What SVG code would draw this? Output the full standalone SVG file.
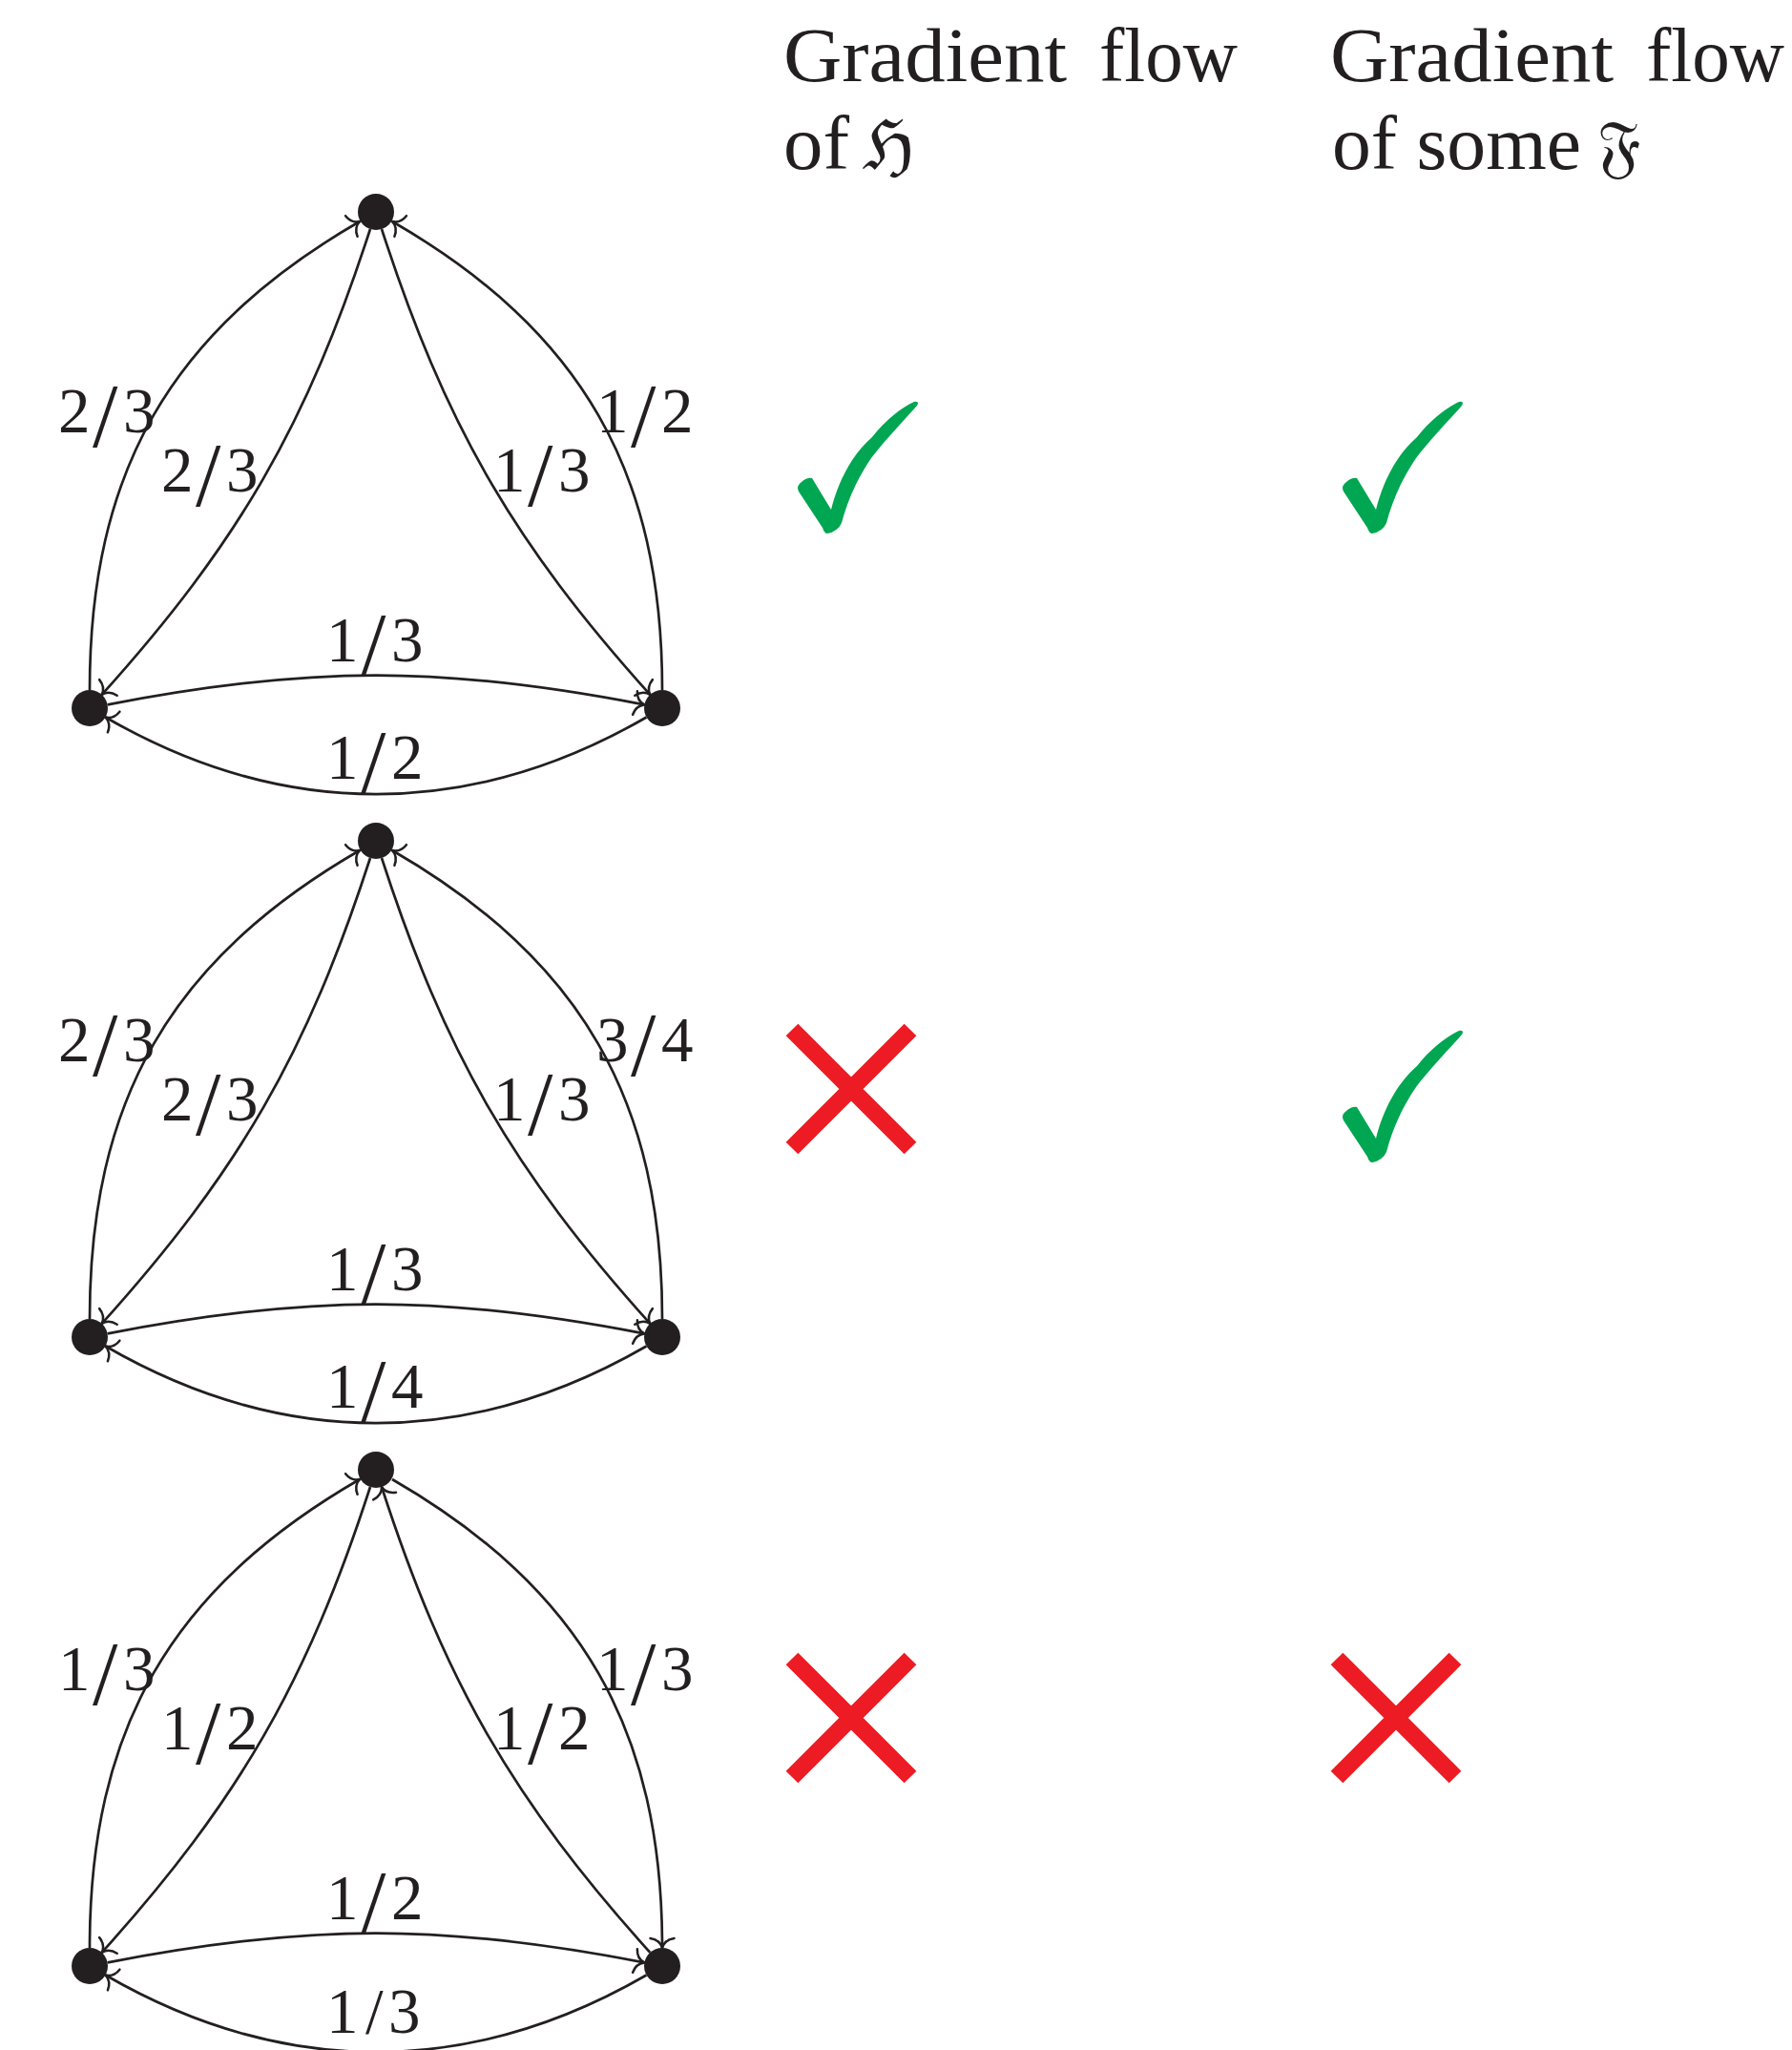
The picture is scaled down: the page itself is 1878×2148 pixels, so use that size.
<svg xmlns="http://www.w3.org/2000/svg" xmlns:xlink="http://www.w3.org/1999/xlink" width="1878" height="2148" viewBox="0 0 1878 2148">
<style>
.edge{fill:none;stroke:#231f20;stroke-width:2.7;marker-end:url(#to)}
.node{fill:#231f20}
.lbl{font-family:"Liberation Serif","DejaVu Serif",serif;font-size:67px;fill:#231f20}
.sl{font-size:95px}
.hdr{font-family:"Liberation Serif","DejaVu Serif",serif;font-size:80px;fill:#231f20}
.frak{font-family:"DejaVu Serif","DejaVu Sans","Noto Sans",serif;font-size:72px;fill:#231f20}
.chk{fill:#00a651}
.xm{fill:none;stroke:#ed1c24;stroke-width:18}
</style>
<defs>
<marker id="to" markerUnits="userSpaceOnUse" orient="auto" markerWidth="40" markerHeight="40" viewBox="-20 -20 40 40" refX="0" refY="0" overflow="visible">
<path d="M -10,-12.5 C -9,-6 -5,-1.5 0,0 C -5,1.5 -9,6 -10,12.5" fill="none" stroke="#231f20" stroke-width="2.5" stroke-linecap="round"/>
</marker>
<path id="check" class="chk" d="M 851,501 L 871,534 C 878,505 893,476 914,458 C 928,440 945,427 958,421 Q 964,420 961,425 C 948,440 930,458 913,480 C 898,502 888,525 882,548 Q 878,557 867,559 Q 864,559 862,553 L 837,515 Q 834,509 840,505 Q 846,500 851,501 Z"/>
<path id="cross" class="xm" d="M -62,-62 L 62,62 M 62,-62 L -62,62"/>
</defs>

<g id="header">
<text class="hdr" y="85"><tspan x="821" textLength="297" lengthAdjust="spacingAndGlyphs">Gradient</tspan><tspan x="1152" textLength="145" lengthAdjust="spacingAndGlyphs">flow</tspan></text>
<text class="hdr" y="177"><tspan x="821" textLength="69" lengthAdjust="spacingAndGlyphs">of</tspan></text>
<text class="frak" x="904" y="177">ℌ</text>
<text class="hdr" y="85"><tspan x="1394" textLength="297" lengthAdjust="spacingAndGlyphs">Gradient</tspan><tspan x="1725" textLength="145" lengthAdjust="spacingAndGlyphs">flow</tspan></text>
<text class="hdr" y="177"><tspan x="1396" textLength="261" lengthAdjust="spacingAndGlyphs">of some</tspan></text>
<text class="frak" x="1674" y="177">𝔉</text>
</g>

<g id="graph1">
<g id="connectors1">
<path class="edge" d="M 94,723 C 94,495 178,347 377,232"/>
<path class="edge" d="M 694,723 C 694,495 610,347 411,232"/>
<path class="edge" d="M 388,240 C 321.7,444.5 250.6,568 106.7,727.9"/>
<path class="edge" d="M 400,240 C 466.3,444.5 537.4,568 681.3,727.9"/>
<path class="edge" d="M 112.7,738.4 C 323.7,697.3 464.3,697.3 675.3,738.4"/>
<path class="edge" d="M 677.5,751.5 C 491.4,859 296.6,859 110.5,751.5"/>
</g>
<g id="g1-top"><circle class="node" cx="394" cy="222" r="19"/></g>
<g id="g1-left"><circle class="node" cx="94" cy="742" r="19"/></g>
<g id="g1-right"><circle class="node" cx="694" cy="742" r="19"/></g>
<g id="g1-labels">
<text class="lbl" y="453"><tspan x="61">2</tspan><tspan class="sl" x="97" dy="15">/</tspan><tspan x="129" dy="-15">3</tspan></text>
<text class="lbl" y="515"><tspan x="169">2</tspan><tspan class="sl" x="205" dy="15">/</tspan><tspan x="237" dy="-15">3</tspan></text>
<text class="lbl" y="515"><tspan x="517">1</tspan><tspan class="sl" x="553" dy="15">/</tspan><tspan x="585" dy="-15">3</tspan></text>
<text class="lbl" y="453"><tspan x="625">1</tspan><tspan class="sl" x="661" dy="15">/</tspan><tspan x="693" dy="-15">2</tspan></text>
<text class="lbl" y="693"><tspan x="342">1</tspan><tspan class="sl" x="378" dy="15">/</tspan><tspan x="410" dy="-15">3</tspan></text>
<text class="lbl" y="816"><tspan x="342">1</tspan><tspan class="sl" x="378" dy="15">/</tspan><tspan x="410" dy="-15">2</tspan></text>
</g>
</g>

<g id="graph2" transform="translate(0,659)">
<g id="connectors2">
<path class="edge" d="M 94,723 C 94,495 178,347 377,232"/>
<path class="edge" d="M 694,723 C 694,495 610,347 411,232"/>
<path class="edge" d="M 388,240 C 321.7,444.5 250.6,568 106.7,727.9"/>
<path class="edge" d="M 400,240 C 466.3,444.5 537.4,568 681.3,727.9"/>
<path class="edge" d="M 112.7,738.4 C 323.7,697.3 464.3,697.3 675.3,738.4"/>
<path class="edge" d="M 677.5,751.5 C 491.4,859 296.6,859 110.5,751.5"/>
</g>
<g id="g2-top"><circle class="node" cx="394" cy="222" r="19"/></g>
<g id="g2-left"><circle class="node" cx="94" cy="742" r="19"/></g>
<g id="g2-right"><circle class="node" cx="694" cy="742" r="19"/></g>
<g id="g2-labels">
<text class="lbl" y="453"><tspan x="61">2</tspan><tspan class="sl" x="97" dy="15">/</tspan><tspan x="129" dy="-15">3</tspan></text>
<text class="lbl" y="515"><tspan x="169">2</tspan><tspan class="sl" x="205" dy="15">/</tspan><tspan x="237" dy="-15">3</tspan></text>
<text class="lbl" y="515"><tspan x="517">1</tspan><tspan class="sl" x="553" dy="15">/</tspan><tspan x="585" dy="-15">3</tspan></text>
<text class="lbl" y="453"><tspan x="625">3</tspan><tspan class="sl" x="661" dy="15">/</tspan><tspan x="693" dy="-15">4</tspan></text>
<text class="lbl" y="693"><tspan x="342">1</tspan><tspan class="sl" x="378" dy="15">/</tspan><tspan x="410" dy="-15">3</tspan></text>
<text class="lbl" y="816"><tspan x="342">1</tspan><tspan class="sl" x="378" dy="15">/</tspan><tspan x="410" dy="-15">4</tspan></text>
</g>
</g>

<g id="graph3" transform="translate(0,1318)">
<g id="connectors3">
<path class="edge" d="M 94,723 C 94,495 178,347 377,232"/>
<path class="edge" d="M 411,232 C 610,347 694,495 694,723"/>
<path class="edge" d="M 388,240 C 321.7,444.5 250.6,568 106.7,727.9"/>
<path class="edge" d="M 681.3,727.9 C 537.4,568 466.3,444.5 400,240"/>
<path class="edge" d="M 112.7,738.4 C 323.7,697.3 464.3,697.3 675.3,738.4"/>
<path class="edge" d="M 677.5,751.5 C 491.4,859 296.6,859 110.5,751.5"/>
</g>
<g id="g3-top"><circle class="node" cx="394" cy="222" r="19"/></g>
<g id="g3-left"><circle class="node" cx="94" cy="742" r="19"/></g>
<g id="g3-right"><circle class="node" cx="694" cy="742" r="19"/></g>
<g id="g3-labels">
<text class="lbl" y="453"><tspan x="61">1</tspan><tspan class="sl" x="97" dy="15">/</tspan><tspan x="129" dy="-15">3</tspan></text>
<text class="lbl" y="515"><tspan x="169">1</tspan><tspan class="sl" x="205" dy="15">/</tspan><tspan x="237" dy="-15">2</tspan></text>
<text class="lbl" y="515"><tspan x="517">1</tspan><tspan class="sl" x="553" dy="15">/</tspan><tspan x="585" dy="-15">2</tspan></text>
<text class="lbl" y="453"><tspan x="625">1</tspan><tspan class="sl" x="661" dy="15">/</tspan><tspan x="693" dy="-15">3</tspan></text>
<text class="lbl" y="693"><tspan x="342">1</tspan><tspan class="sl" x="378" dy="15">/</tspan><tspan x="410" dy="-15">2</tspan></text>
<text class="lbl" y="812"><tspan x="342">1</tspan><tspan x="383">/</tspan><tspan x="407">3</tspan></text>
</g>
</g>

<g id="marks">
<use xlink:href="#check" x="0" y="0"/>
<use xlink:href="#check" x="571" y="0"/>
<use xlink:href="#cross" x="892" y="1141"/>
<use xlink:href="#check" x="571" y="659"/>
<use xlink:href="#cross" x="892" y="1800"/>
<use xlink:href="#cross" x="1463" y="1800"/>
</g>
</svg>
